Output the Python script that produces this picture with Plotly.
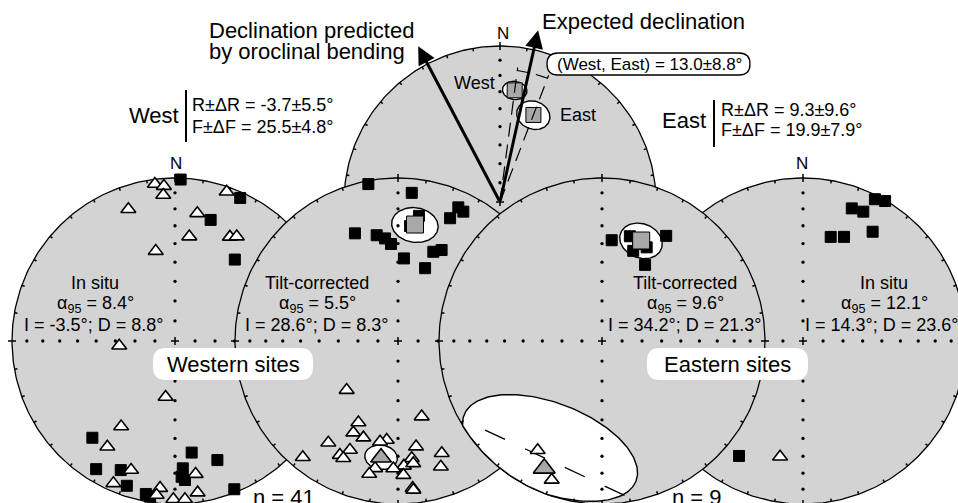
import numpy as np
import plotly.graph_objects as go

# ---------------- data (declination, inclination in degrees) ----------------
# Western sites, in situ
w_insitu_sq_dec = [2, 24.5, 16.4, 36.3, 220.5, 171.5, 160.4, 211.6, 202.8, 176.5, 177.2, 175.9, 198.4, 190.8, 189.1, 158.2]
w_insitu_sq_inc = [1, 4, 23.6, 38, 23, 31.4, 23.5, 8.5, 15.2, 22.8, 17.7, 15.6, 7.1, 5, 3.7, 2.3]
w_insitu_tr_dec = [352.7, 355.9, 355.4, 340.5, 19.1, 9.9, 7.8, 27.8, 30.6, 347.9, 265.1, 189.5, 212.2, 212.6,
                   198.8, 171.2, 203.4, 185.8, 186.8, 171.5, 180.6, 176.4]
w_insitu_tr_inc = [-3.3, -5.3, -11.1, -15.4, -3.5, -21.6, -35.6, -28.6, -26.5, -43, -61.9, -61.5, -38, -24,
                   -17.5, -18.5, -5.4, -10.2, -5.4, -6.6, -3.3, -3]
# Western sites, tilt-corrected
w_tilt_sq_dec = [349.3, 5.3, 24.3, 26.8, 23, 9.5, 338.2, 348.6, 352.8, 355.9, 4.1, 21.6, 25.6, 20.4, 6]
w_tilt_sq_inc = [2.3, 9.6, 11, 12.1, 19.3, 23.2, 29.6, 34.2, 36.7, 40.1, 47.9, 40.8, 38.1, 50.6, 29.8]
w_tilt_tr_dec = [205.9, 162.6, 206, 199.7, 214.4, 203.8, 207, 205, 219.3, 186.5, 190.1, 170.3, 173.3, 158.7,
                 161.2, 177.3, 182.1, 172.9, 190.2, 192.2, 177.7, 174.3, 174.1, 226.3]
w_tilt_tr_inc = [-43.7, -49.8, -37.5, -37.1, -25.3, -27.8, -22.5, -21.7, -8.6, -38.8, -37.3, -34.6, -28.4, -27,
                 -19.6, -24.3, -22.8, -25.3, -21.7, -17.6, -18.8, -10.2, -9, -54.1]
# Eastern sites, tilt-corrected
e_tilt_sq_dec = [14.9, 20.4, 5.5, 31.4, 19.1, 29.5, 25.5]
e_tilt_sq_inc = [33.9, 36.7, 37.9, 25.4, 41.1, 45.4, 36.5]
e_tilt_tr_dec = [210.5, 199.9]
e_tilt_tr_inc = [-23.3, -10.3]
# Eastern sites, in situ
e_insitu_sq_dec = [20.2, 25, 26.9, 30.4, 32.5, 21.5, 14.9, 209.1]
e_insitu_sq_inc = [14.4, 13.5, 2.8, 0.5, 21.6, 31.9, 34.3, 20.4]
e_insitu_tr_dec = [191.2]
e_insitu_tr_inc = [-28.4]

# site means and statistics
w_insitu_stats = dict(a95=8.4, inc=-3.5, dec=8.8)
w_tilt_stats = dict(a95=5.5, inc=28.6, dec=8.3)
e_tilt_stats = dict(a95=9.6, inc=34.2, dec=21.3)
e_insitu_stats = dict(a95=12.1, inc=14.3, dec=23.6)
w_tilt_mean = (8.3, 28.6)          # gray square
w_tilt_rev_mean = (188.3, -28.6)   # gray triangle
e_tilt_mean = (21.3, 34.2)
e_tilt_rev_mean = (204.4, -15.3)
w_cone = [10.0, 7.0]               # confidence cones (deg) drawn as white ellipses
e_cone = 9.6
# summary net (top)
top_west = (7.5, 28.6)
top_east = (21.0, 40.0)
top_cones = [5.5, 8.0]
expected_dec = 12.5
oroclinal_dec = -27.7
west_stats = ("-3.7±5.5", "25.5±4.8")
east_stats = ("9.3±9.6", "19.9±7.9")
rotation_text = "13.0±8.8"
n_west, n_east = 41, 9

# ---------------- layout constants ----------------
W, H = 958, 503
FONT = "Liberation Sans, Arial, sans-serif"
GRAY = "#d3d3d3"
MGRAY = "#a8a8a8"
NETS = {
    "top": (500, 202, 156),
    "w_insitu": (175, 341, 163),
    "w_tilt": (398, 341, 163),
    "e_tilt": (602, 341, 163),
    "e_insitu": (803, 341, 163),
}
AXIS_INC = [80, 70, 60, 50, 40, 30, 20, 10]


def eq_area(net, dec, inc):
    cx, cy, R = NETS[net]
    dec = np.radians(np.asarray(dec, float))
    inc = np.abs(np.asarray(inc, float))
    d = R * np.sqrt(2) * np.sin(np.radians((90 - inc) / 2))
    return cx + d * np.sin(dec), cy - d * np.cos(dec)


def cone(dec, inc, a, n=120):
    D, I = np.radians(dec), np.radians(inc)
    v = np.array([np.cos(I) * np.cos(D), np.cos(I) * np.sin(D), np.sin(I)])
    u1 = np.array([-np.sin(I) * np.cos(D), -np.sin(I) * np.sin(D), np.cos(I)])
    u2 = np.cross(v, u1)
    t = np.linspace(0, 2 * np.pi, n)
    A = np.radians(a)
    p = np.cos(A) * v[:, None] + np.sin(A) * (np.cos(t) * u1[:, None] + np.sin(t) * u2[:, None])
    return np.degrees(np.arctan2(p[1], p[0])), np.degrees(np.arcsin(np.clip(p[2], -1, 1)))


fig = go.Figure()
NOH = dict(hoverinfo="skip", showlegend=False)


def add_disc(net):
    cx, cy, R = NETS[net]
    t = np.linspace(0, 2 * np.pi, 361)
    fig.add_trace(go.Scatter(x=cx + R * np.cos(t), y=cy + R * np.sin(t), mode="lines", fill="toself",
                             fillcolor=GRAY, line=dict(color="black", width=1.3), **NOH))


def add_frame(net):
    cx, cy, R = NETS[net]
    xs, ys = [], []
    for az in range(0, 360, 10):
        a = np.radians(az)
        sx, sy = np.sin(a), -np.cos(a)
        r0, r1 = (R - 4, R + 4) if az % 90 == 0 else (R - 3, R)
        xs += [cx + r0 * sx, cx + r1 * sx, None]
        ys += [cy + r0 * sy, cy + r1 * sy, None]
    xs += [cx - 4, cx + 4, None, cx, cx, None]
    ys += [cy, cy, None, cy - 4, cy + 4, None]
    fig.add_trace(go.Scatter(x=xs, y=ys, mode="lines", line=dict(color="black", width=1.5), **NOH))
    dx, dy = eq_area(net, np.repeat([0, 90, 180, 270], len(AXIS_INC)), np.tile(AXIS_INC, 4))
    fig.add_trace(go.Scatter(x=dx, y=dy, mode="markers", marker=dict(size=3.3, color="black"), **NOH))


def add_cone(net, dec, inc, a):
    d, i = cone(dec, inc, a)
    x, y = eq_area(net, d, i)
    fig.add_trace(go.Scatter(x=x, y=y, mode="lines", fill="toself", fillcolor="white",
                             line=dict(color="black", width=1.4), **NOH))


def add_points(net, dec, inc, kind, size=None, color=None):
    x, y = eq_area(net, dec, inc)
    if kind == "sq":
        mk = dict(symbol="square", size=size or 11, color=color or "black", line=dict(color="black", width=1))
    else:
        mk = dict(symbol="triangle-up", size=size or 13, color=color or "white",
                  line=dict(color="black", width=1.6))
    fig.add_trace(go.Scatter(x=x, y=y, mode="markers", marker=mk, **NOH))


# --- top summary net (behind everything) ---
add_disc("top")
for (dd, ii), a in zip([top_west, top_east], top_cones):
    add_cone("top", dd, ii, a)
add_frame("top")
add_points("top", [top_west[0], top_east[0]], [top_west[1], top_east[1]], "sq", size=15, color=MGRAY)
cx5, cy5, R5 = NETS["top"]
for dd in [top_west[0], top_east[0]]:
    x, y = eq_area("top", [dd], [0])
    L = 0.87
    fig.add_trace(go.Scatter(x=[cx5, cx5 + (x[0] - cx5) * L], y=[cy5, cy5 + (y[0] - cy5) * L], mode="lines",
                             line=dict(color="black", width=1.2, dash="14px,8px"), **NOH))
arc_d = np.linspace(top_west[0], top_east[0], 30)
ax_, ay_ = eq_area("top", arc_d, np.zeros_like(arc_d))
fig.add_trace(go.Scatter(x=cx5 + (ax_ - cx5) * 0.85, y=cy5 + (ay_ - cy5) * 0.85, mode="lines",
                         line=dict(color="black", width=1.2, dash="12px,7px"), **NOH))

# --- western in situ ---
add_disc("w_insitu")
add_frame("w_insitu")
add_points("w_insitu", w_insitu_sq_dec, w_insitu_sq_inc, "sq")
add_points("w_insitu", w_insitu_tr_dec, w_insitu_tr_inc, "tr")

# --- eastern in situ ---
add_disc("e_insitu")
add_frame("e_insitu")
add_points("e_insitu", e_insitu_sq_dec, e_insitu_sq_inc, "sq")
add_points("e_insitu", e_insitu_tr_dec, e_insitu_tr_inc, "tr")

# --- western tilt-corrected ---
add_disc("w_tilt")
add_cone("w_tilt", *w_tilt_mean, w_cone[0])
add_cone("w_tilt", *w_tilt_rev_mean, w_cone[1])
add_frame("w_tilt")
add_points("w_tilt", w_tilt_sq_dec, w_tilt_sq_inc, "sq")
add_points("w_tilt", w_tilt_tr_dec, w_tilt_tr_inc, "tr")
add_points("w_tilt", [w_tilt_mean[0]], [w_tilt_mean[1]], "sq", size=17, color=MGRAY)
add_points("w_tilt", [w_tilt_rev_mean[0]], [w_tilt_rev_mean[1]], "tr", size=18, color=MGRAY)

# --- eastern tilt-corrected ---
add_disc("e_tilt")
add_cone("e_tilt", *e_tilt_mean, e_cone)
# elongated reversed-direction ellipse (clipped to the net)
cx3, cy3, R3 = NETS["e_tilt"]
ecx, ecy = eq_area("e_tilt", [205.9], [-27.9])
t = np.linspace(0, 2 * np.pi, 200)
th = np.radians(21)
ex = ecx[0] + 0.565 * R3 * np.cos(t) * np.cos(th) - 0.276 * R3 * np.sin(t) * np.sin(th)
ey = ecy[0] + 0.565 * R3 * np.cos(t) * np.sin(th) + 0.276 * R3 * np.sin(t) * np.cos(th)
rr = np.hypot(ex - cx3, ey - cy3)
k = np.minimum(1, R3 / rr)
fig.add_trace(go.Scatter(x=cx3 + (ex - cx3) * k, y=cy3 + (ey - cy3) * k, mode="lines", fill="toself",
                         fillcolor="white", line=dict(color="black", width=1.4), **NOH))
lx, ly = eq_area("e_tilt", [232.7, 169.9], [-10.8, -2.5])
fig.add_trace(go.Scatter(x=lx, y=ly, mode="lines", line=dict(color="black", width=1.3, dash="22px,22px"), **NOH))
add_frame("e_tilt")
add_points("e_tilt", e_tilt_sq_dec, e_tilt_sq_inc, "sq")
add_points("e_tilt", e_tilt_tr_dec, e_tilt_tr_inc, "tr")
add_points("e_tilt", [e_tilt_mean[0]], [e_tilt_mean[1]], "sq", size=17, color=MGRAY)
add_points("e_tilt", [e_tilt_rev_mean[0]], [e_tilt_rev_mean[1]], "tr", size=19, color=MGRAY)


# ---------------- texts ----------------
def txt(x, y, s, size, xa="center", ya="middle"):
    return dict(x=x, y=y, xref="x", yref="y", text=s, showarrow=False, xanchor=xa, yanchor=ya,
                font=dict(size=size, color="black", family=FONT))


BIG, SM = 22, 18
ann = []
ann.append(txt(176, 163, "N", 17))
ann.append(txt(802, 163, "N", 17))
ann.append(txt(503, 33, "N", 17))


def stats_block(cx, title, st, ix):
    ann.append(txt(cx, 283, title, SM))
    ann.append(txt(cx, 304, f"α<sub>95</sub> = {st['a95']}°", SM))
    ann.append(txt(ix, 325, f"I = {st['inc']}°; D = {st['dec']}°", SM, xa="left"))


stats_block(95, "In situ", w_insitu_stats, 22)
stats_block(317, "Tilt-corrected", w_tilt_stats, 243)
stats_block(685, "Tilt-corrected", e_tilt_stats, 606)
stats_block(884, "In situ", e_insitu_stats, 803)

ann.append(txt(233, 364, "Western sites", BIG))
ann.append(txt(727, 364, "Eastern sites", BIG))
ann.append(txt(284, 497, f"n = {n_west}", BIG))
ann.append(txt(697, 497, f"n = {n_east}", BIG))

ann.append(txt(181, 115, "West", BIG, xa="right"))
ann.append(txt(190, 105, f"R±ΔR = {west_stats[0]}°", SM, xa="left"))
ann.append(txt(190, 127, f"F±ΔF = {west_stats[1]}°", SM, xa="left"))
ann.append(txt(708, 120, "East", BIG, xa="right"))
ann.append(txt(719, 110, f"R±ΔR = {east_stats[0]}°", SM, xa="left"))
ann.append(txt(719, 130, f"F±ΔF = {east_stats[1]}°", SM, xa="left"))

ann.append(txt(207, 30, "Declination predicted", BIG, xa="left"))
ann.append(txt(207, 51, "by oroclinal bending", BIG, xa="left"))
ann.append(txt(540, 21, "Expected declination", BIG, xa="left"))
ann.append(txt(497, 83, "West", SM, xa="right"))
ann.append(txt(558, 115, "East", SM, xa="left"))
ann.append(txt(555, 64, f"(West, East) = {rotation_text}°", 17, xa="left"))

ARROW_LEN = 176
for dd in [expected_dec, oroclinal_dec]:
    tx = cx5 + ARROW_LEN * np.sin(np.radians(dd))
    ty = cy5 - ARROW_LEN * np.cos(np.radians(dd))
    ann.append(dict(x=tx, y=ty, ax=cx5, ay=cy5, xref="x", yref="y", axref="x", ayref="y", text="",
                    showarrow=True, arrowhead=2, arrowsize=1.2, arrowwidth=3, arrowcolor="black", standoff=0))


def rrect(x0, y0, x1, y1, r):
    return (f"M{x0 + r},{y0} L{x1 - r},{y0} Q{x1},{y0} {x1},{y0 + r} L{x1},{y1 - r} Q{x1},{y1} {x1 - r},{y1} "
            f"L{x0 + r},{y1} Q{x0},{y1} {x0},{y1 - r} L{x0},{y0 + r} Q{x0},{y0} {x0 + r},{y0} Z")


shapes = [
    dict(type="path", path=rrect(153, 348, 313, 380, 13), xref="x", yref="y", fillcolor="white",
         line=dict(width=0), layer="above"),
    dict(type="path", path=rrect(647, 348, 808, 380, 13), xref="x", yref="y", fillcolor="white",
         line=dict(width=0), layer="above"),
    dict(type="path", path=rrect(547, 53, 750, 75, 11), xref="x", yref="y", fillcolor="white",
         line=dict(width=1.3, color="black"), layer="above"),
    dict(type="line", x0=186, x1=186, y0=90, y1=142, xref="x", yref="y", line=dict(width=2, color="black")),
    dict(type="line", x0=714, x1=714, y0=100, y1=147, xref="x", yref="y", line=dict(width=2, color="black")),
]

fig.update_layout(
    width=W, height=H, autosize=False,
    margin=dict(l=0, r=0, t=0, b=0),
    paper_bgcolor="white", plot_bgcolor="white",
    xaxis=dict(range=[0, W], visible=False, fixedrange=True),
    yaxis=dict(range=[H, 0], visible=False, fixedrange=True),
    annotations=ann, shapes=shapes,
)
fig.write_html("out.html", config={"displayModeBar": False},
               post_script="document.body.style.margin='0';")
